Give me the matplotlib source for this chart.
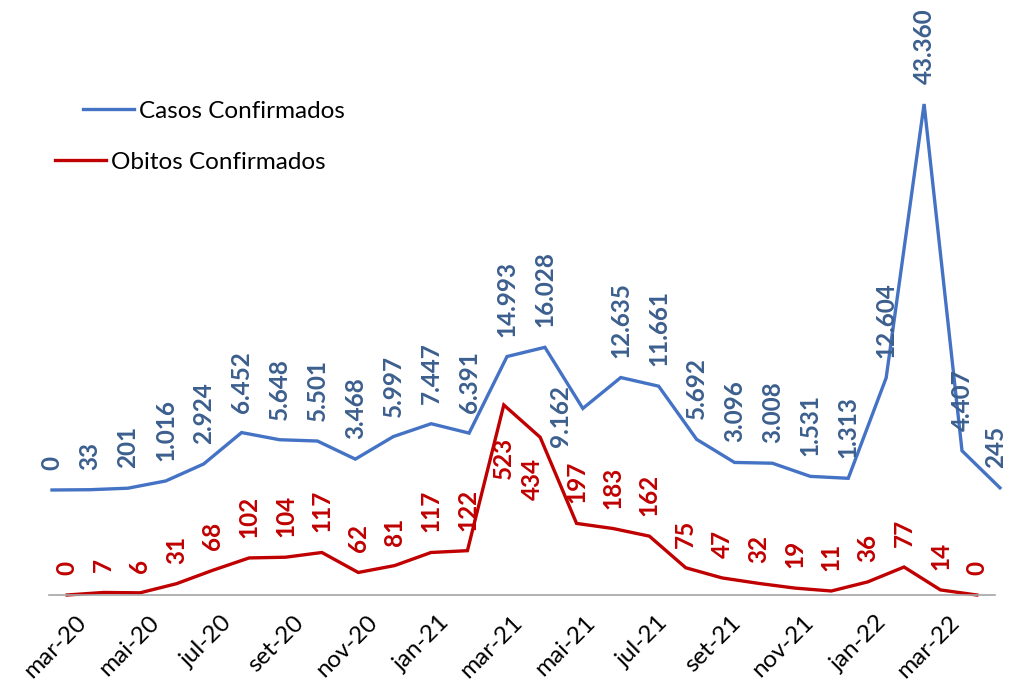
import matplotlib
matplotlib.use("Agg")
import matplotlib.pyplot as plt
import matplotlib.transforms as mtransforms
import numpy as np

months = ["mar-20", "abr-20", "mai-20", "jun-20", "jul-20", "ago-20", "set-20", "out-20",
          "nov-20", "dez-20", "jan-21", "fev-21", "mar-21", "abr-21", "mai-21", "jun-21",
          "jul-21", "ago-21", "set-21", "out-21", "nov-21", "dez-21", "jan-22", "fev-22",
          "mar-22", "abr-22"]
casos = [0, 33, 201, 1016, 2924, 6452, 5648, 5501, 3468, 5997, 7447, 6391, 14993, 16028,
         9162, 12635, 11661, 5692, 3096, 3008, 1531, 1313, 12604, 43360, 4407, 245]
obitos = [0, 7, 6, 31, 68, 102, 104, 117, 62, 81, 117, 122, 523, 434, 197, 183, 162, 75,
          47, 32, 19, 11, 36, 77, 14, 0]

# label placement overrides (style): index -> (dx px, dy px, vertical alignment)
casos_place = {14: (-22, -8, "center"), 25: (-4, 20, "bottom")}
obitos_place = {12: (0, -32, "top"), 13: (-8, -21, "top")}

def fmt(v):
    return f"{v:,}".replace(",", ".")

plt.rcParams['font.family'] = ['Lato', 'DejaVu Sans']
W, H = 1009, 684
fig = plt.figure(figsize=(W / 100, H / 100), dpi=100)

left_px, right_px, top_px, bot_px = 49, 995, 10, 595
ax = fig.add_axes([left_px / W, 1 - bot_px / H, (right_px - left_px) / W, (bot_px - top_px) / H])
ax2 = fig.add_axes(ax.get_position(), frameon=False)

red = "#C00000"
blue = "#4472C4"
blue_txt = "#3C5F8E"
fs = 17.5

x = np.arange(len(months))
ax.plot(x, obitos, color=red, lw=2.4, solid_joinstyle='miter', label="Obitos Confirmados", clip_on=False)
ax.set_xlim(-0.5, len(months) - 0.5)
ax.set_ylim(0, 1610)
ax.set_yticks([])
for s in ["top", "right", "left"]:
    ax.spines[s].set_visible(False)
ax.spines["bottom"].set_color("#A6A6A6")
ax.spines["bottom"].set_linewidth(1.2)
ax.set_xticks(x[::2])
ax.set_xticklabels(months[::2], rotation=45, ha="right", va="top", rotation_mode="anchor", fontsize=fs)
ax.tick_params(axis="x", length=0, pad=12)
off = mtransforms.ScaledTranslation(8 / 100, 0, fig.dpi_scale_trans)
for lab in ax.get_xticklabels():
    lab.set_transform(lab.get_transform() + off)

ax2.plot(x, casos, color=blue, lw=2.4, solid_joinstyle='miter', label="Casos Confirmados", clip_on=False)
ax2.set_xlim(-0.079, 24.87)
ax2.set_ylim(-11795, 53920)
ax2.set_xticks([])
ax2.set_yticks([])

def label_series(axis, vals, place, color):
    for i, v in enumerate(vals):
        dx, dy, va = place.get(i, (0, 20, "bottom"))
        axis.annotate(fmt(v), (x[i], v), xytext=(dx, dy), textcoords="offset pixels",
                      rotation=90, ha="center", va=va, color=color, fontsize=fs,
                      fontweight="bold", annotation_clip=False)

label_series(ax, obitos, obitos_place, red)
label_series(ax2, casos, casos_place, blue_txt)

ax2.legend(loc="center left", bbox_to_anchor=(83 / W, 1 - 111 / H), bbox_transform=fig.transFigure,
           frameon=False, fontsize=fs, handlelength=2.1, handletextpad=0.2, borderpad=0, borderaxespad=0)
ax.legend(loc="center left", bbox_to_anchor=(55 / W, 1 - 162 / H), bbox_transform=fig.transFigure,
          frameon=False, fontsize=fs, handlelength=2.1, handletextpad=0.2, borderpad=0, borderaxespad=0)

fig.savefig("out.png", dpi=100)
